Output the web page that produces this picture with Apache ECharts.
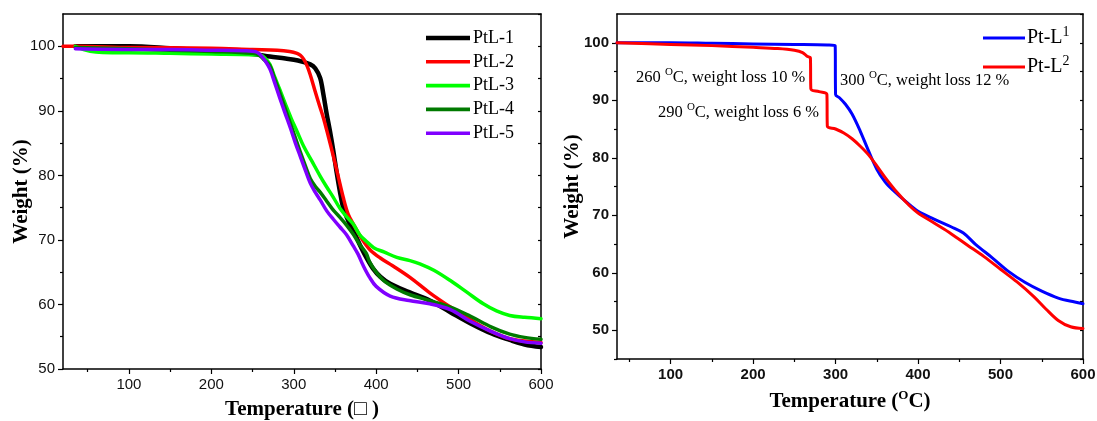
<!DOCTYPE html>
<html>
<head>
<meta charset="utf-8">
<script src="https://cdn.jsdelivr.net/npm/echarts@6/dist/echarts.min.js"></script>
<style>html,body{margin:0;padding:0;background:#fff;}#c{width:1097px;height:421px;}</style>
</head>
<body>
<div id="c"></div>
<script>
// ---- Left chart data (Temperature, Weight %) ----
const ptl1T = [35,100,150,200,250,271,290,305,320,326,332,336,340,344,348,352,356,360,366,372,380,388,396,405,417,440,465,490,514,540,562,580,600];
const ptl1W = [100,100,99.7,99.3,98.8,98.4,98.1,97.8,97.2,96.6,95.1,92.5,89.5,86.8,83.8,80.5,77.5,75,73,71.5,69.3,67.3,65.6,64.3,63.2,61.9,60.6,58.8,57.1,55.5,54.5,53.8,53.4];

const ptl2T = [20,35,100,200,250,280,295,304,308,312,316,320,326,331,336,342,348,354,360,366,373,384,393,405,420,441,465,490,515,540,565,600];
const ptl2W = [100,100,99.8,99.7,99.5,99.4,99.2,98.9,98.6,98,97,95.6,93,90.9,88.9,86,83,79.8,76.6,74,72.3,69.9,68.4,67.2,66,64.2,61.8,59.6,57.6,55.8,54.6,54.1];

const ptl3T = [35,45,60,80,100,150,200,250,260,265,271,277,283,290,297,304,312,322,332,340,348,356,364,372,380,388,397,410,425,441,453,470,490,510,530,546,562,580,600];
const ptl3W = [100,99.5,99.1,99,99,98.9,98.8,98.7,98.6,98.2,97.2,95.2,93.3,91,88.8,86.8,84.5,82.2,79.9,78.2,76.6,74.9,73.6,72.5,70.8,69.8,68.8,68.1,67.3,66.8,66.3,65.3,63.7,61.9,60.1,59,58.3,58,57.8];

const ptl4T = [35,100,150,200,250,258,264,271,277,283,289,296,302,308,314,320,326,332,340,348,356,364,372,380,388,392,400,410,425,441,465,490,514,540,562,580,600];
const ptl4W = [99.8,99.6,99.4,99.2,98.9,98.6,97.9,97,94.9,92.8,90.6,88,85.8,83.6,81.5,79.5,78.3,77.4,76,74.6,73.5,72.3,70.9,69.3,67.9,66.6,65,63.6,62.4,61.5,60.6,59.6,58.2,56.5,55.4,54.9,54.6];

const ptl5T = [35,100,150,200,240,255,260,265,271,277,283,289,296,302,308,314,320,326,332,340,348,356,364,372,378,384,392,400,417,440,465,490,514,540,562,580,600];
const ptl5W = [99.6,99.5,99.5,99.4,99.3,99.1,98.6,97.8,96.5,94.3,92,89.8,87.3,85,82.9,80.8,78.8,77.4,76.2,74.5,73.2,72,70.8,69.1,67.8,66.1,64.2,62.8,61.3,60.6,60.1,59.2,57.4,55.8,54.7,54.2,54.0];

// ---- Right chart data ----
const ptLa_T = [35,100,150,200,250,290,299.5,300,305,312,320,330,340,350,360,370,385,400,420,440,455,470,490,510,530,550,570,590,600];
const ptLa_W = [100,100,99.9,99.8,99.7,99.6,99.5,91,90.4,89.3,87.6,84.6,81.2,78,75.8,74.3,72.4,70.7,69.3,68,66.9,64.9,62.6,60.2,58.3,56.8,55.6,54.9,54.6];

const ptLb_T = [35,100,150,200,230,250,260,266,269.5,270,280,289.5,290,300,310,320,330,340,350,360,375,390,400,420,440,460,480,500,520,540,555,570,585,600];
const ptLb_W = [100,99.7,99.5,99.2,99,98.7,98.3,97.6,97.4,92,91.5,91,85.5,85,84.3,83.3,82,80.5,78.6,76.6,73.9,71.6,70.4,68.6,66.8,64.8,62.8,60.6,58.4,55.9,53.7,51.7,50.6,50.3];

// ---- Tick values ----
const xTicksL = [100,200,300,400,500,600];
const xMinorL = [50,150,250,350,450,550];
const yTicksL = [50,60,70,80,90,100];
const yMinorL = [55,65,75,85,95];
const yRightL = [50,55,60,65,70,75,80,85,90,95,100,105];

const xTicksR = [100,200,300,400,500,600];
const xMinorR = [50,150,250,350,450,550];
const yTicksR = [50,60,70,80,90,100];
const yMinorR = [45,55,65,75,85,95];
const yRightR = [45,50,55,60,65,70,75,80,85,90,95,100,105];

const zip = (a, b) => a.map((v, i) => [v, b[i]]);

const serif = '"Liberation Serif","Times New Roman",serif';
const sans = '"Liberation Sans",Arial,sans-serif';
const axisLineStyle = { show: true, lineStyle: { color: '#000', width: 1.5 } };

function mainX(grid, min, ticks, name, nameStyle, bold, gap) {
  return {
    type: 'value', gridIndex: grid, position: 'bottom', min: min, max: 600,
    axisLine: axisLineStyle, splitLine: { show: false },
    axisTick: { show: true, inside: false, length: 5, customValues: ticks, lineStyle: { color: '#000', width: 1.2 } },
    axisLabel: { show: true, customValues: ticks, margin: 8, color: '#111', fontFamily: sans, fontSize: 15, fontWeight: bold ? 'bold' : 'normal' },
    name: name, nameLocation: 'middle', nameGap: gap, nameMoveOverlap: false, nameTextStyle: nameStyle
  };
}
function minorX(grid, min, ticks) {
  return {
    type: 'value', gridIndex: grid, position: 'bottom', min: min, max: 600,
    axisLine: { show: false }, splitLine: { show: false }, axisLabel: { show: false },
    axisTick: { show: true, length: 3, customValues: ticks, lineStyle: { color: '#000', width: 1.2 } }
  };
}
function topX(grid, min) {
  return {
    type: 'value', gridIndex: grid, position: 'top', min: min, max: 600,
    axisLine: axisLineStyle, splitLine: { show: false }, axisLabel: { show: false }, axisTick: { show: false }
  };
}
function mainY(grid, min, ticks, nameGap, bold) {
  return {
    type: 'value', gridIndex: grid, position: 'left', min: min, max: 105,
    axisLine: axisLineStyle, splitLine: { show: false },
    axisTick: { show: true, length: 5, customValues: ticks, lineStyle: { color: '#000', width: 1.2 } },
    axisLabel: { show: true, customValues: ticks, margin: 8, color: '#111', fontFamily: sans, fontSize: 15, fontWeight: bold ? 'bold' : 'normal' },
    name: 'Weight (%)', nameLocation: 'middle', nameGap: nameGap, nameRotate: 90, nameMoveOverlap: false,
    nameTextStyle: { fontFamily: serif, fontWeight: 'bold', fontSize: 21, color: '#000' }
  };
}
function minorY(grid, min, ticks) {
  return {
    type: 'value', gridIndex: grid, position: 'left', min: min, max: 105,
    axisLine: { show: false }, splitLine: { show: false }, axisLabel: { show: false },
    axisTick: { show: true, length: 3, customValues: ticks, lineStyle: { color: '#000', width: 1.2 } }
  };
}
function rightY(grid, min, ticks) {
  return {
    type: 'value', gridIndex: grid, position: 'right', min: min, max: 105,
    axisLine: axisLineStyle, splitLine: { show: false }, axisLabel: { show: false },
    axisTick: { show: true, inside: true, length: 3, customValues: ticks, lineStyle: { color: '#000', width: 1.2 } }
  };
}

const supRich = { sup: { fontSize: 13, fontFamily: serif, fontWeight: 'bold', verticalAlign: 'top', lineHeight: 26, color: '#000' } };
const line4 = 'path://M0,0 L44,0 L44,3.6 L0,3.6 Z';
const line5 = 'path://M0,0 L44,0 L44,4.6 L0,4.6 Z';
const line3r = 'path://M0,0 L42,0 L42,3.2 L0,3.2 Z';

function lineSeries(name, xi, yi, t, w, color, width) {
  return { name: name, type: 'line', xAxisIndex: xi, yAxisIndex: yi, data: zip(t, w), symbol: 'none',
    smooth: 0.35, color: color, lineStyle: { width: width, cap: 'round', join: 'round' } };
}

const option = {
  backgroundColor: '#fff',
  animation: false,
  grid: [
    { left: 63, right: 556, top: 14, bottom: 52, outerBoundsMode: 'none', containLabel: false },
    { left: 617, right: 14, top: 14, bottom: 62, outerBoundsMode: 'none', containLabel: false }
  ],
  xAxis: [
    mainX(0, 20, xTicksL, 'Temperature (\u25A1 )', { fontFamily: serif, fontWeight: 'bold', fontSize: 21, color: '#000' }, false, 30),
    minorX(0, 20, xMinorL),
    topX(0, 20),
    mainX(1, 35, xTicksR, 'Temperature ({sup|O}C)', { fontFamily: serif, fontWeight: 'bold', fontSize: 21, color: '#000', lineHeight: 26, rich: supRich }, true, 30),
    minorX(1, 35, xMinorR),
    topX(1, 35)
  ],
  yAxis: [
    mainY(0, 50, yTicksL, 31, false),
    minorY(0, 50, yMinorL),
    rightY(0, 50, yRightL),
    mainY(1, 45, yTicksR, 34, true),
    minorY(1, 45, yMinorR),
    rightY(1, 45, yRightR)
  ],
  legend: [
    {
      data: [{ name: 'PtL-1', icon: line5 }, { name: 'PtL-2', icon: line4 }, { name: 'PtL-3', icon: line4 }, { name: 'PtL-4', icon: line4 }, { name: 'PtL-5', icon: line4 }],
      orient: 'vertical', left: 421, top: 24, itemWidth: 44, itemHeight: 14, itemGap: 5.8,
      textStyle: { fontFamily: serif, fontSize: 18, color: '#000', padding: [0, 0, 0, -2] }
    },
    {
      data: [{ name: 'Pt-L1', icon: line3r }, { name: 'Pt-L2', icon: line3r }],
      orient: 'vertical', left: 978, top: 20, itemWidth: 42, itemHeight: 14, itemGap: 3,
      formatter: function (n) { return 'Pt-L{sup|' + n.slice(-1) + '}'; },
      textStyle: { fontFamily: serif, fontSize: 20, color: '#000', lineHeight: 26, padding: [0, 0, 0, -3],
        rich: { sup: { fontFamily: serif, fontSize: 14, verticalAlign: 'top', lineHeight: 26, color: '#000' } } }
    }
  ],
  series: [
    lineSeries('PtL-1', 0, 0, ptl1T, ptl1W, '#000000', 4.5),
    lineSeries('PtL-2', 0, 0, ptl2T, ptl2W, '#ff0000', 3.5),
    lineSeries('PtL-3', 0, 0, ptl3T, ptl3W, '#00ff00', 3.5),
    lineSeries('PtL-4', 0, 0, ptl4T, ptl4W, '#007a00', 3.5),
    lineSeries('PtL-5', 0, 0, ptl5T, ptl5W, '#8000ff', 3.5),
    lineSeries('Pt-L1', 3, 3, ptLa_T, ptLa_W, '#0000ff', 3),
    lineSeries('Pt-L2', 3, 3, ptLb_T, ptLb_W, '#ff0000', 3)
  ],
  graphic: [
    { type: 'text', left: 636, top: 67, style: { text: '260 {sup|O}C, weight loss 10 %', fontFamily: serif, fontSize: 16.5, fill: '#000', lineHeight: 22, rich: { sup: { fontFamily: serif, fontSize: 11, verticalAlign: 'top', lineHeight: 22 } } } },
    { type: 'text', left: 658, top: 102, style: { text: '290 {sup|O}C, weight loss 6 %', fontFamily: serif, fontSize: 16.5, fill: '#000', lineHeight: 22, rich: { sup: { fontFamily: serif, fontSize: 11, verticalAlign: 'top', lineHeight: 22 } } } },
    { type: 'text', left: 840, top: 70, style: { text: '300 {sup|O}C, weight loss 12 %', fontFamily: serif, fontSize: 16.5, fill: '#000', lineHeight: 22, rich: { sup: { fontFamily: serif, fontSize: 11, verticalAlign: 'top', lineHeight: 22 } } } }
  ]
};

const chart = echarts.init(document.getElementById('c'), null, { renderer: 'canvas' });
chart.setOption(option);
</script>
</body>
</html>
